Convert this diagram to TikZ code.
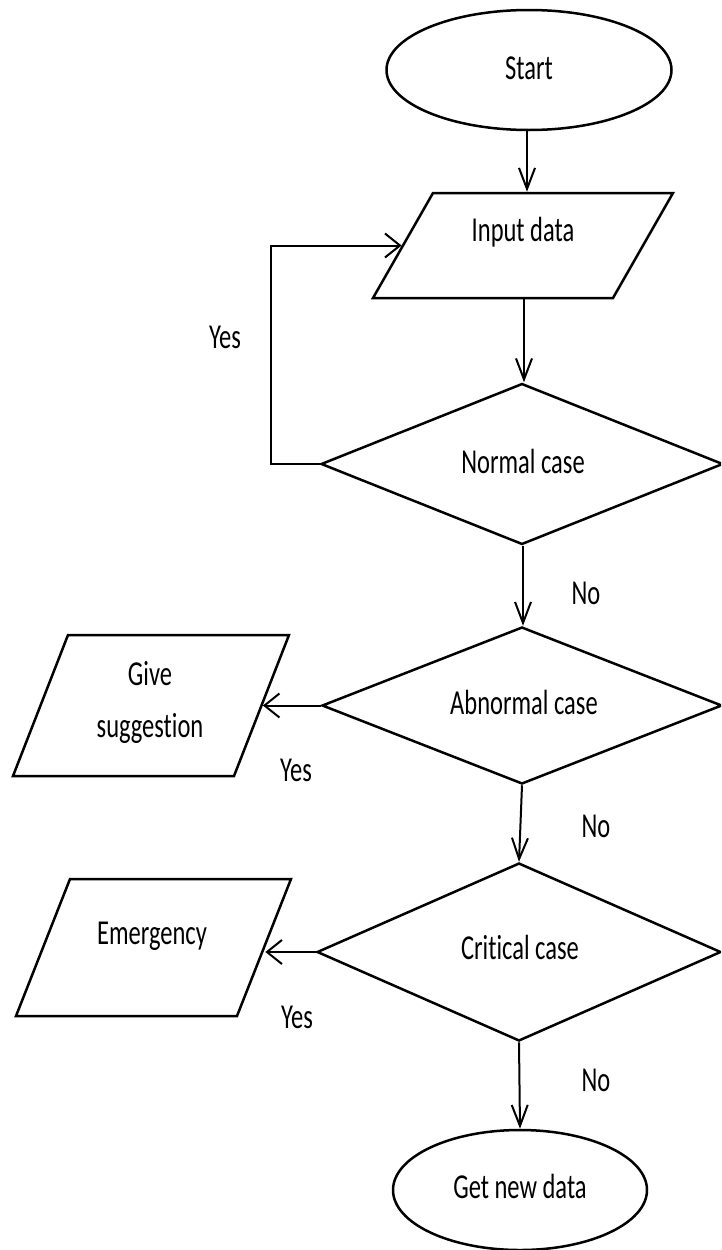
\documentclass[tikz,border=0pt]{standalone}
\usepackage{fontspec}
\setmainfont{Carlito}[FakeStretch=0.70,Ligatures={NoCommon}]
\usetikzlibrary{shapes.geometric,arrows.meta}
\tikzset{
  shp/.style={draw=black, line width=2.5pt, inner sep=0pt, fill=white},
  term/.style={shp, ellipse},
  decis/.style={shp, diamond},
  io/.style={shp, trapezium, minimum width=0pt, minimum height=0pt},
  txt/.style={inner sep=0pt, anchor=base, font=\fontsize{35}{52}\selectfont, align=center},
  varr/.style={line width=2pt, -{Straight Barb[length=21pt,width=16pt,line width=2pt]}},
  harr/.style={line width=2pt, -{Straight Barb[length=15pt,width=24pt,line width=2pt]}},
}
\begin{document}
\begin{tikzpicture}[x=1pt,y=-1pt]
\useasboundingbox (0,0) rectangle (721,1250);
\clip (0,0) rectangle (721,1250);
\fill[white] (0,0) rectangle (721,1250);

% shapes
\node[term, minimum width=285, minimum height=120] (start) at (529,70) {};
\node[io, trapezium left angle=60.26, trapezium right angle=119.74, inner xsep=90pt, inner ysep=52.5pt] (input) at (523,245.5) {};
\node[decis, minimum width=402, minimum height=161] (normal) at (522,464) {};
\node[decis, minimum width=400, minimum height=157] (abnormal) at (522,705.5) {};
\node[io, trapezium left angle=68.69, trapezium right angle=111.31, inner xsep=83pt, inner ysep=70.5pt] (suggest) at (151,705.5) {};
\node[decis, minimum width=404, minimum height=178] (critical) at (519,952) {};
\node[io, trapezium left angle=68.49, trapezium right angle=111.51, inner xsep=83.5pt, inner ysep=68.5pt] (emerg) at (153.5,947.5) {};
\node[term, minimum width=254, minimum height=120] (getnew) at (520,1190) {};

% texts
\node[txt] (tstart) at (529,79) {Start};
\node[txt] (tinput) at (523,241) {Input data};
\node[txt] (tnormal) at (523,473) {Normal case};
\node[txt] (tabn) at (524,714) {Abnormal case};
\node[txt] (tsugg) at (150,737) {Give\\suggestion};
\node[txt] (tcrit) at (520,959) {Critical case};
\node[txt] (temerg) at (152,944) {Emergency};
\node[txt] (tget) at (520,1198) {Get new data};

\node[txt] (yes1) at (225,348) {Yes};
\node[txt] (yes2) at (296,781) {Yes};
\node[txt] (yes3) at (297,1028) {Yes};
\node[txt] (no1) at (586,604) {No};
\node[txt] (no2) at (596,837) {No};
\node[txt] (no3) at (596,1091) {No};

% connectors
\draw[varr] (start.south -| 527,0) -- (input.north -| 527,0);
\draw[varr] (input.south -| 524,0) -- (normal.north -| 524,0);
\draw[harr] (normal.west) -- ++(-49,0) |- (input);
\draw[varr] (normal.south -| 523,0) -- (abnormal.north -| 523,0);
\draw[harr] (abnormal.west) -- (suggest);
\draw[varr] (abnormal.south) -- (critical.north);
\draw[harr] (critical.west) -- (critical.west -| emerg.east);
\draw[varr] (critical.south) -- (getnew.north);
\end{tikzpicture}
\end{document}
